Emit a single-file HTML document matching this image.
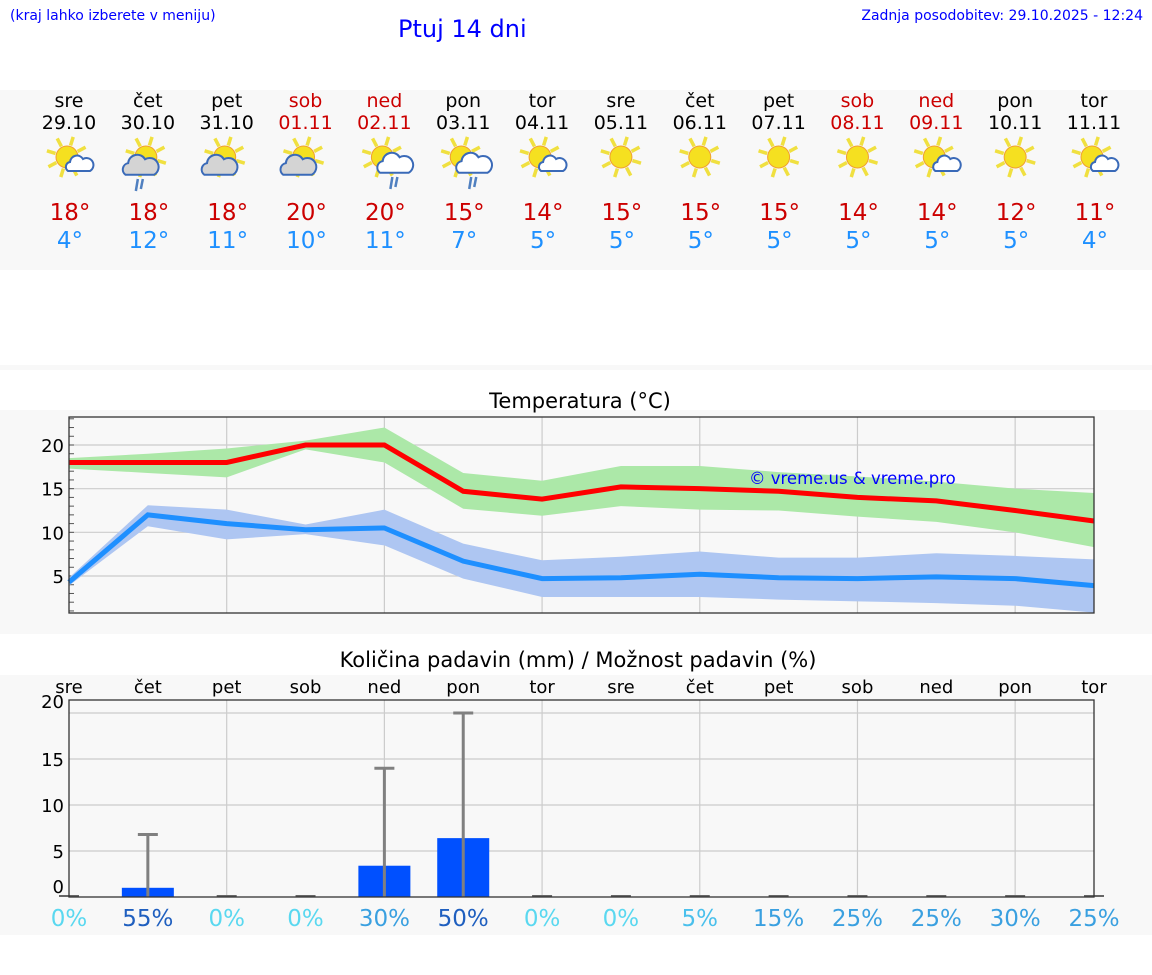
<!DOCTYPE html>
<html><head><meta charset="utf-8"><style>
body{margin:0;width:1152px;height:975px;background:#fff;font-family:"DejaVu Sans","Liberation Sans",sans-serif;position:relative;overflow:hidden}
.a{position:absolute}
</style></head><body>
<div class="a" style="left:10px;top:8px;font-size:14px;color:#00f">(kraj lahko izberete v meniju)</div>
<div class="a" style="left:398px;top:15px;font-size:24px;color:#00f">Ptuj 14 dni</div>
<div class="a" style="right:9px;top:8px;font-size:14px;color:#00f">Zadnja posodobitev: 29.10.2025 - 12:24</div>
<div class="a" style="left:0;top:90px;width:1152px;height:180px;background:#f8f8f8"></div>
<div class="a" style="left:0;top:365px;width:1152px;height:5px;background:#f8f8f8"></div>
<svg class="a" style="left:0;top:0" width="1152" height="975" font-family="DejaVu Sans, Liberation Sans, sans-serif">
<rect x="0" y="410" width="1152" height="224" fill="#f8f8f8"/>
<rect x="0" y="675" width="1152" height="260" fill="#f8f8f8"/>
<g id="fc"></g><g id="tc"></g><g id="pc"></g>
</svg>
<script>
const days=["sre","čet","pet","sob","ned","pon","tor","sre","čet","pet","sob","ned","pon","tor"];
const dates=["29.10","30.10","31.10","01.11","02.11","03.11","04.11","05.11","06.11","07.11","08.11","09.11","10.11","11.11"];
const weekend=[0,0,0,1,1,0,0,0,0,0,1,1,0,0];
const icons=["sc","gr","g","g","wr","wr","sc","s","s","s","s","sc","s","sc"];
const hiLabel=[18,18,18,20,20,15,14,15,15,15,14,14,12,11];
const loLabel=[4,12,11,10,11,7,5,5,5,5,5,5,5,4];
const tMax=[18,18,18,20,20,14.7,13.8,15.2,15,14.7,14,13.6,12.5,11.3];
const tMaxHi=[18.5,19,19.6,20.5,22,16.8,15.9,17.6,17.6,16.9,16.4,15.8,15,14.5];
const tMaxLo=[17.3,16.8,16.3,19.5,18,12.7,11.9,13,12.6,12.5,11.8,11.2,10,8.3];
const tMin=[4.3,12,11,10.3,10.5,6.7,4.7,4.8,5.2,4.8,4.7,4.9,4.7,3.9];
const tMinHi=[4.8,13.1,12.6,10.9,12.6,8.7,6.8,7.2,7.8,7.1,7.1,7.6,7.3,6.9];
const tMinLo=[3.9,10.7,9.2,9.8,8.5,4.7,2.6,2.6,2.6,2.3,2.1,1.9,1.6,0.8];
const tTicks=[5,10,15,20];
const rain=[0,1,0,0,3.4,6.4,0,0,0,0,0,0,0,0];
const rainMax=[0,6.8,0,0,14,20,0,0,0,0,0,0,0,0];
const chance=[0,55,0,0,30,50,0,0,5,15,25,25,30,25];
const pTicks=[5,10,15,20];
const NS="http://www.w3.org/2000/svg";
function mk(p,t,a,txt){const e=document.createElementNS(NS,t);for(const k in a)e.setAttribute(k,a[k]);if(txt!==undefined)e.textContent=txt;p.appendChild(e);return e;}
const X=i=>69+i*(1025/13);
const TY=v=>445-(v-20)*131/15;
const PY=v=>897-v*9.2;
const fc=document.getElementById('fc'),tc=document.getElementById('tc'),pc=document.getElementById('pc');
days.forEach((d,i)=>{const x=X(i);const col=weekend[i]?'#c00':'#000';
 let e=mk(fc,'text',{x:x,y:107,'text-anchor':'middle','font-size':19,fill:col},d);
 e=mk(fc,'text',{x:x,y:129,'text-anchor':'middle','font-size':19,fill:col},dates[i]);
 const g=mk(fc,'g',{});
 const t=icons[i];const sx=t==='s'?x:x-2,sy=157;
 for(let k=0;k<8;k++){const a=k*Math.PI/4+0.3;mk(g,'line',{x1:sx+Math.cos(a)*12,y1:sy+Math.sin(a)*12,x2:sx+Math.cos(a)*21,y2:sy+Math.sin(a)*21,stroke:'#f0e040','stroke-width':3.5});}
 mk(g,'circle',{cx:sx,cy:sy,r:11,fill:'#f5e020',stroke:'#f0a030','stroke-width':1});
 if(t!=='s'){const grey=t[0]==='g';const cx=grey?x-8:x+10,cy=grey?167:165,s=grey?1.3:(t==='wr'?1.3:1.0);
  mk(g,'path',{d:`M${cx-11*s},${cy+6*s} a${5*s},${5*s} 0 0 1 ${2*s},${-9*s} a${7*s},${7*s} 0 0 1 ${13*s},${-3*s} a${6*s},${6*s} 0 0 1 ${7*s},${12*s} z`,fill:grey?'#d4d4d4':'#fff',stroke:'#3a6ab8','stroke-width':2});
  if(t[1]==='r'){mk(g,'line',{x1:cx-2,y1:cy+12,x2:cx-4,y2:cy+24,stroke:'#5080c0','stroke-width':2.5});mk(g,'line',{x1:cx+3,y1:cy+12,x2:cx+1,y2:cy+22,stroke:'#5080c0','stroke-width':2.5});}
 }
 e=mk(fc,'text',{x:x+1,y:220,'text-anchor':'middle','font-size':23,fill:'#c00'},hiLabel[i]+'°');
 e=mk(fc,'text',{x:x+1,y:248,'text-anchor':'middle','font-size':23,fill:'#1e90ff'},loLabel[i]+'°');
});
let e=mk(tc,'text',{x:580,y:408,'text-anchor':'middle','font-size':21,fill:'#000'},'Temperatura (°C)');
mk(tc,'rect',{x:69,y:417,width:1025,height:196,fill:'#f8f8f8'});
tTicks.forEach(v=>{mk(tc,'line',{x1:69,x2:1094,y1:TY(v),y2:TY(v),stroke:'#ccc','stroke-width':1.2});
 const t=mk(tc,'text',{x:64,y:TY(v)+7,'text-anchor':'end','font-size':18},v);});
for(let v=1;v<=23;v++)mk(tc,'line',{x1:69,x2:74,y1:TY(v),y2:TY(v),stroke:'#555'});
for(let i=2;i<14;i+=2)mk(tc,'line',{x1:X(i),x2:X(i),y1:417,y2:613,stroke:'#ccc','stroke-width':1.2});
function band(hi,lo,col,name){const p=hi.map((v,i)=>X(i)+','+TY(v)).concat(lo.map((v,i)=>X(i)+','+TY(v)).reverse());const b=mk(tc,'polygon',{points:p.join(' '),fill:col});}
function line(d,col,name){const l=mk(tc,'polyline',{points:d.map((v,i)=>X(i)+','+TY(v)).join(' '),fill:'none',stroke:col,'stroke-width':5});}
band(tMaxHi,tMaxLo,'#ace8a8','max-temp-range');band(tMinHi,tMinLo,'#aec6f2','min-temp-range');
line(tMax,'#ff0000','max-temp-line');line(tMin,'#1e8fff','min-temp-line');
mk(tc,'rect',{x:69,y:417,width:1025,height:196,fill:'none',stroke:'#333','stroke-width':1.3});
e=mk(tc,'text',{x:749,y:484,'font-size':16.5,fill:'#00f'},'© vreme.us & vreme.pro');
e=mk(pc,'text',{x:578,y:667,'text-anchor':'middle','font-size':21,fill:'#000'},'Količina padavin (mm) / Možnost padavin (%)');
days.forEach((d,i)=>{const t=mk(pc,'text',{x:X(i),y:693,'text-anchor':'middle','font-size':18},d);});
pTicks.forEach(v=>mk(pc,'line',{x1:69,x2:1094,y1:PY(v),y2:PY(v),stroke:'#ccc','stroke-width':1.2}));
[["20",708],["15",766],["10",812],["5",858],["0",893]].forEach(a=>{const t=mk(pc,'text',{x:64,y:a[1],'text-anchor':'end','font-size':18},a[0]);});
for(let i=2;i<14;i+=2)mk(pc,'line',{x1:X(i),x2:X(i),y1:700,y2:897,stroke:'#ccc','stroke-width':1.2});
rain.forEach((v,i)=>{const x=X(i);
 if(v>0){const b=mk(pc,'rect',{x:x-26,y:PY(v),width:52,height:897-PY(v),fill:'#0050ff'});}
 const m=rainMax[i];
 if(m>0){mk(pc,'line',{x1:x,x2:x,y1:PY(m),y2:897,stroke:'#808080','stroke-width':3});mk(pc,'line',{x1:x-10,x2:x+10,y1:PY(m),y2:PY(m),stroke:'#808080','stroke-width':3});}
 else mk(pc,'line',{x1:x-10,x2:x+10,y1:896,y2:896,stroke:'#666','stroke-width':2});
 const c=chance[i];const col=c===0?'#5ad8f0':c>=50?'#1f5fbf':c>=30?'#3aa0e0':c>=15?'#3aa0e0':'#4ac0ec';
 const t=mk(pc,'text',{x:x,y:926,'text-anchor':'middle','font-size':23,fill:col},c+'%');
});
mk(pc,'rect',{x:69,y:700,width:1025,height:197,fill:'none',stroke:'#333','stroke-width':1.3});
</script>
</body></html>
